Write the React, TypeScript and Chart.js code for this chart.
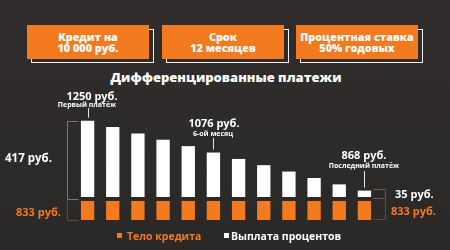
import React, { useEffect, useRef } from "react";
import { Chart, registerables } from "chart.js";

Chart.register(...registerables);

// ---- data ----
const months = ["1", "2", "3", "4", "5", "6", "7", "8", "9", "10", "11", "12"];
const principalPart = [833, 833, 833, 833, 833, 833, 833, 833, 833, 833, 833, 833];
const interestPart = [417, 382, 347, 313, 278, 243, 208, 174, 139, 104, 69, 35];
const seriesNames = ["Тело кредита", "Выплата процентов"];
const infoBoxes = [
  ["Кредит на", "10 000 руб."],
  ["Срок", "12 месяцев"],
  ["Процентная ставка", "50% годовых"],
];
const chartTitle = "Дифференцированные платежи";
const callouts = [
  { value: "1250 руб.", note: "Первый платёж" },
  { value: "1076 руб.", note: "6-ой месяц" },
  { value: "868 руб.", note: "Последний платёж" },
];
const sideLabels = { firstInterest: "417 руб.", principal: "833 руб.", lastInterest: "35 руб." };

const ORANGE = "#f47a20";
const FONT = "'Open Sans', 'DejaVu Sans', sans-serif";

const overlayPlugin = {
  id: "overlay",
  afterDatasetsDraw(chart: any) {
    const ctx = chart.ctx;
    const orange = chart.getDatasetMeta(0).data;
    const white = chart.getDatasetMeta(1).data;
    ctx.save();
    ctx.lineWidth = 1;
    // leader lines
    ctx.strokeStyle = "#e6e6e6";
    const leads: [number, number][] = [[0, 108], [5, 138], [11, 171]];
    for (const [i, y0] of leads) {
      const b = white[i];
      const x = Math.round(b.x) + 0.5;
      ctx.beginPath();
      ctx.moveTo(x, y0);
      ctx.lineTo(x, b.y - 3);
      ctx.stroke();
    }
    // left bracket
    const f = white[0];
    const fo = orange[0];
    const lx = Math.round(f.x - f.width / 2 - 14) + 0.5;
    const tx = Math.round(f.x - f.width / 2 - 3) + 0.5;
    ctx.strokeStyle = "#7a7674";
    ctx.beginPath();
    ctx.moveTo(tx, Math.round(f.y) + 0.5);
    ctx.lineTo(lx, Math.round(f.y) + 0.5);
    ctx.lineTo(lx, Math.round(f.base + 2) + 0.5);
    ctx.lineTo(tx, Math.round(f.base + 2) + 0.5);
    ctx.stroke();
    ctx.strokeStyle = "#5e4c44";
    ctx.beginPath();
    ctx.moveTo(lx, Math.round(f.base + 2) + 0.5);
    ctx.lineTo(lx, Math.round(fo.base) + 0.5);
    ctx.lineTo(tx, Math.round(fo.base) + 0.5);
    ctx.stroke();
    // right bracket
    const l = white[11];
    const lo = orange[11];
    const rx0 = Math.round(l.x + l.width / 2 + 2) + 0.5;
    const rx1 = rx0 + 12;
    ctx.strokeStyle = "#6a5a52";
    ctx.beginPath();
    ctx.moveTo(rx0, Math.round(l.y - 2) + 0.5);
    ctx.lineTo(rx1, Math.round(l.y - 2) + 0.5);
    ctx.lineTo(rx1, Math.round(l.base + 1) + 0.5);
    ctx.lineTo(rx0, Math.round(l.base + 1) + 0.5);
    ctx.stroke();
    ctx.strokeStyle = "#5e4c44";
    ctx.beginPath();
    ctx.moveTo(rx1, Math.round(l.base + 1) + 0.5);
    ctx.lineTo(rx1, Math.round(lo.base - 1) + 0.5);
    ctx.lineTo(rx0, Math.round(lo.base - 1) + 0.5);
    ctx.stroke();
    ctx.restore();
  },
};

function Txt(props: { x: number; y: number; size: number; color?: string; weight?: number; children: any; align?: string }) {
  const { x, y, size, color = "#ffffff", weight = 700, children, align = "center" } = props;
  const tr = align === "center" ? "translate(-50%,-50%)" : "translate(0,-50%)";
  return (
    <div
      style={{
        position: "absolute",
        left: x,
        top: y,
        transform: tr,
        whiteSpace: "nowrap",
        fontFamily: FONT,
        fontWeight: weight,
        fontSize: size,
        lineHeight: 1,
        color,
      }}
    >
      {children}
    </div>
  );
}

export default function App() {
  const canvasRef = useRef<HTMLCanvasElement | null>(null);

  useEffect(() => {
    if (!canvasRef.current) return;
    const chart = new Chart(canvasRef.current, {
      type: "bar",
      data: {
        labels: months,
        datasets: [
          {
            label: seriesNames[0],
            data: principalPart,
            backgroundColor: ORANGE,
            yAxisID: "y2",
            stack: "m",
            barPercentage: 0.53,
            categoryPercentage: 1,
          },
          {
            label: seriesNames[1],
            data: interestPart,
            backgroundColor: "#ffffff",
            yAxisID: "y",
            stack: "m",
            barPercentage: 0.53,
            categoryPercentage: 1,
          },
        ],
      },
      options: {
        responsive: false,
        animation: false,
        devicePixelRatio: 1,
        layout: { padding: { left: 75, right: 73, top: 110, bottom: 30 } },
        plugins: { legend: { display: false }, tooltip: { enabled: false }, title: { display: false } },
        scales: {
          x: { display: false, stacked: true, grid: { display: false } },
          y: { display: false, min: -125.7, max: 475.5, grid: { display: false } },
          y2: { display: false, min: 0, max: 4822, grid: { display: false } },
        },
      },
      plugins: [overlayPlugin],
    });
    return () => chart.destroy();
  }, []);

  const boxLefts = [27, 162, 296];

  return (
    <div
      style={{
        position: "fixed",
        left: 0,
        top: 0,
        width: 450,
        height: 250,
        overflow: "hidden",
        background: "linear-gradient(180deg, #302d2c 0%, #2d2a2a 60%, #2b2828 100%)",
      }}
    >
      {infoBoxes.map((lines, i) => (
        <React.Fragment key={i}>
          <div
            style={{
              position: "absolute",
              left: boxLefts[i] + 4,
              top: 29,
              width: 123,
              height: 34,
              boxSizing: "border-box",
              border: "1.5px solid #f2f2f2",
            }}
          />
          <div
            style={{
              position: "absolute",
              left: boxLefts[i],
              top: 25,
              width: 122,
              height: 34,
              background: ORANGE,
              color: "#fff",
              fontFamily: FONT,
              fontWeight: 800,
              fontSize: 10.8,
              lineHeight: "11.5px",
              textAlign: "center",
              display: "flex",
              flexDirection: "column",
              justifyContent: "center",
              alignItems: "center",
            }}
          >
            <div>{lines[0]}</div>
            <div>{lines[1]}</div>
          </div>
        </React.Fragment>
      ))}
      <Txt x={226} y={77} size={13} weight={800}>{chartTitle}</Txt>

      <canvas ref={canvasRef} width={450} height={250} style={{ position: "absolute", left: 0, top: 0 }} />

      <Txt x={92} y={95} size={11}>{callouts[0].value}</Txt>
      <Txt x={87} y={104} size={7}>{callouts[0].note}</Txt>
      <Txt x={214} y={122} size={11}>{callouts[1].value}</Txt>
      <Txt x={213} y={133} size={7}>{callouts[1].note}</Txt>
      <Txt x={364} y={154} size={11}>{callouts[2].value}</Txt>
      <Txt x={364} y={165} size={7}>{callouts[2].note}</Txt>

      <Txt x={5} y={158} size={11.5} align="left">{sideLabels.firstInterest}</Txt>
      <Txt x={16} y={211} size={11} color={ORANGE} align="left">{sideLabels.principal}</Txt>
      <Txt x={395} y={193} size={11} align="left">{sideLabels.lastInterest}</Txt>
      <Txt x={391} y={210} size={11} color={ORANGE} align="left">{sideLabels.principal}</Txt>

      <div style={{ position: "absolute", left: 117, top: 233, width: 5, height: 5, background: ORANGE }} />
      <Txt x={127} y={235.5} size={10.5} color={ORANGE} align="left">{seriesNames[0]}</Txt>
      <div style={{ position: "absolute", left: 224, top: 233, width: 5, height: 5, background: "#ffffff" }} />
      <Txt x={231} y={235.5} size={10.5} align="left">{seriesNames[1]}</Txt>
    </div>
  );
}
